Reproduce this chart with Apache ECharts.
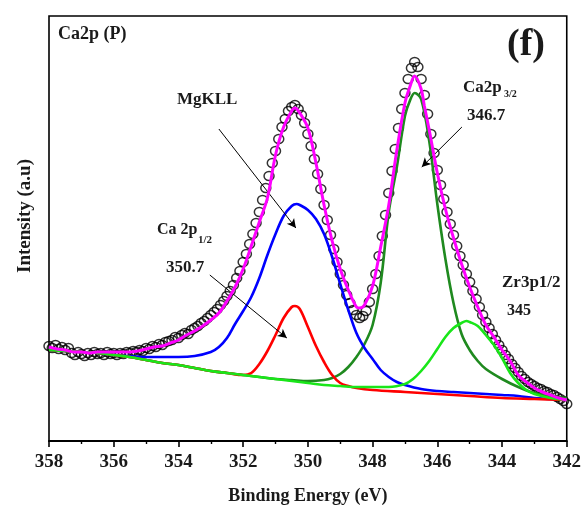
<!DOCTYPE html>
<html><head><meta charset="utf-8">
<script src="https://cdn.jsdelivr.net/npm/echarts@6/dist/echarts.min.js"></script>
<style>html,body{margin:0;padding:0;background:#fff}#c{width:584px;height:511px}</style>
</head><body><div id="c"></div>
<script>
// Binding energy axis (eV), reversed
const xMin = 342, xMax = 358, xStep = 2;

// Measured spectrum (circles): [BE, intensity]
const measured = [
[358.0,95],[357.9,93],[357.8,96],[357.7,92],[357.6,94],[357.5,91],[357.4,93],[357.3,88],[357.2,86],[357.1,89],
[357.0,87],[356.9,85],[356.8,88],[356.7,86],[356.6,89],[356.5,87],[356.4,88],[356.3,86],[356.2,89],[356.1,87],
[356.0,88],[355.9,86],[355.8,88],[355.7,87],[355.6,89],[355.5,88],[355.4,90],[355.3,89],[355.2,91],[355.1,90],
[355.0,93],[354.9,92],[354.8,95],[354.7,94],[354.6,97],[354.5,96],[354.4,99],[354.3,100],[354.2,101],[354.1,104],
[354.0,103],[353.9,106],[353.8,108],[353.7,107],[353.6,111],[353.5,113],[353.4,115],[353.3,118],[353.2,120],[353.1,123],
[353.0,126],[352.9,129],[352.8,132],[352.7,136],[352.6,140],[352.5,145],[352.4,150],[352.3,156],[352.2,163],[352.1,170],
[352.0,179],[351.9,187],[351.8,197],[351.7,207],[351.6,218],[351.5,229],[351.4,241],[351.3,253],[351.2,265],[351.1,278],
[351.0,290],[350.9,302],[350.8,314],[350.7,322],[350.6,330],[350.5,334],[350.4,336],[350.3,332],[350.2,326],[350.1,318],
[350.0,307],[349.9,295],[349.8,282],[349.7,267],[349.6,252],[349.5,236],[349.4,221],[349.3,206],[349.2,192],[349.1,179],
[349.0,167],[348.9,156],[348.8,146],[348.7,138],[348.6,131],[348.5,126],[348.4,123],[348.3,125],[348.2,130],[348.1,139],
[348.0,152],[347.9,167],[347.8,185],[347.7,205],[347.6,226],[347.5,248],[347.4,270],[347.3,292],[347.2,313],[347.1,332],
[347.0,348],[346.9,362],[346.8,373],[346.7,379],[346.6,374],[346.5,362],[346.4,346],[346.3,327],[346.2,307],[346.1,288],
[346.0,271],[345.9,256],[345.8,242],[345.7,229],[345.6,217],[345.5,206],[345.4,195],[345.3,185],[345.2,176],[345.1,167],
[345.0,159],[344.9,150],[344.8,142],[344.7,134],[344.6,126],[344.5,119],[344.4,113],[344.3,107],[344.2,101],[344.1,96],
[344.0,91],[343.9,86],[343.8,82],[343.7,77],[343.6,73],[343.5,69],[343.4,65],[343.3,62],[343.2,59],[343.1,57],
[343.0,55],[342.9,53],[342.8,52],[342.7,50],[342.6,49],[342.5,47],[342.4,46],[342.3,44],[342.2,42],[342.1,40],[342.0,37]
];

// Fitted envelope (magenta)
const envelope = [
[358.0,94],[357.75,92],[357.5,91],[357.25,89],[357.0,89],[356.75,88],[356.5,89],[356.25,89],[356.0,89],[355.75,89],
[355.5,89],[355.25,90],[355.0,92],[354.75,94],[354.5,95],[354.25,98],[354.0,101],[353.75,106],[353.5,110],[353.25,115],
[353.0,121],[352.75,128],[352.5,140],[352.25,154],[352.0,172],[351.75,195],[351.5,219],[351.25,243],[351.0,286],[350.75,314],
[350.5,330],[350.4,333],[350.25,328],[350.0,313],[349.75,278],[349.5,236],[349.25,200],[349.0,172],[348.75,151],[348.5,134],
[348.4,133],[348.25,136],[348.0,155],[347.75,194],[347.5,236],[347.25,291],[347.0,338],[346.85,354],[346.7,365],[346.5,352],
[346.4,335],[346.25,311],[346.0,268],[345.75,232],[345.5,203],[345.25,177],[345.0,154],[344.75,134],[344.5,116],[344.25,104],
[344.0,91],[343.75,80],[343.5,66],[343.25,59],[343.0,53],[342.75,49],[342.5,46],[342.25,43],[342.0,41]
];

// MgKLL component (blue)
const mgKLL = [
[358,91],[357.5,90],[357,89],[356.5,88],[356,86],[355.5,85],[355,84],[354.5,84],[354,84],[353.5,85],
[353,89],[352.75,94],[352.5,103],[352.25,117],[352,130],[351.75,144],[351.5,163],[351.25,186],[351,207],[350.75,225],
[350.5,235],[350.35,237],[350.25,236],[350,231],[349.75,222],[349.5,207],[349.25,184],[349,157],[348.75,131],[348.5,108],
[348.25,93],[348,82],[347.75,71],[347.5,64],[347.25,59],[347,56],[346.5,52],[346,50],[345.5,49],[345,48],
[344.5,47],[344,46],[343.5,45],[343,43],[342.5,42],[342,41]
];

// Ca2p1/2 component (red)
const ca2p12 = [
[358,91],[357.5,90],[357,89],[356.5,88],[356,86],[355.5,84],[355,81],[354.5,78],[354,76],[353.5,73],
[353,70],[352.5,68],[352,66],[351.75,68],[351.5,77],[351.25,90],[351,106],[350.75,123],[350.5,134],[350.4,135],
[350.25,132],[350,114],[349.75,95],[349.5,79],[349.25,66],[349,58],[348.75,55],[348.5,53],[348,51],[347,49],
[346,47],[345,45],[344,43],[343,42],[342,41]
];

// Ca2p3/2 component (dark green)
const ca2p32 = [
[358,91],[357.5,90],[357,89],[356.5,88],[356,86],[355.5,84],[355,81],[354.5,78],[354,76],[353.5,73],
[353,70],[352.5,68],[352,66],[351.5,64],[351,62],[350.5,61],[350,60],[349.5,61],[349.25,63],[349,67],
[348.75,74],[348.5,84],[348.25,97],[348,116],[347.75,158],[347.5,229],[347.25,274],[347,325],[346.85,340],[346.7,348],
[346.5,342],[346.25,300],[346,237],[345.75,182],[345.5,138],[345.25,107],[345,91],[344.75,80],[344.5,72],[344,62],
[343.5,54],[343,48],[342.5,45],[342,43]
];

// Zr3p1/2 component (light green)
const zr3p12 = [
[358,91],[357.5,90],[357,89],[356.5,88],[356,86],[355.5,84],[355,81],[354.5,78],[354,76],[353.5,73],
[353,70],[352.5,68],[352,66],[351.5,64],[351,62],[350.5,60],[350,58],[349.5,56],[349,55],[348.5,54],
[348,54],[347.5,54],[347,57],[346.75,62],[346.5,70],[346.25,80],[346,92],[345.75,104],[345.5,113],[345.25,118],
[345.1,120],[345,119],[344.75,115],[344.5,106],[344.25,96],[344,83],[343.75,68],[343.5,58],[343.25,51],[343,47],
[342.5,43],[342,41]
];

// Annotation arrows: [from, to] in [BE, intensity]
const arrowMg = [[352.75,312],[350.37,213]];
const arrowCa12 = [[353.03,166],[350.65,103]];
const arrowCa32 = [[345.24,314],[346.48,274]];

const FONT = "'Liberation Serif','Times New Roman',serif";
const chart = echarts.init(document.getElementById('c'), null, {renderer:'canvas'});

function comp(name, data, color, z){
  return {name, type:'line', data, smooth:0.35, showSymbol:false, z,
    lineStyle:{color, width:2.6}, itemStyle:{color}, animation:false};
}
function arrowData(a){ return [{coord:a[0]},{coord:a[1]}]; }

const txt = (t, x, y, size, extra) => Object.assign({type:'text', left:x, top:y,
  style:{text:t, font:'bold '+size+'px '+FONT, fill:'#1a1a1a'}}, extra||{});

chart.setOption({
  animation:false,
  backgroundColor:'#fff',
  grid:{left:49, right:17, top:16, bottom:70, show:true, borderColor:'#000', borderWidth:1.6},
  xAxis:{type:'value', min:xMin, max:xMax, interval:xStep, inverse:true,
    name:'Binding Energy (eV)', nameLocation:'middle', nameGap:46,
    nameTextStyle:{fontFamily:FONT, fontWeight:'bold', fontSize:18, color:'#1a1a1a'},
    axisLine:{show:true, lineStyle:{color:'#000', width:2}},
    axisTick:{show:true, inside:false, length:6, lineStyle:{color:'#000', width:1.6}},
    minorTick:{show:true, splitNumber:2, length:3, lineStyle:{color:'#000', width:1.4}},
    axisLabel:{fontFamily:FONT, fontWeight:'bold', fontSize:19, color:'#1a1a1a', margin:12},
    splitLine:{show:false}},
  yAxis:{type:'value', min:0, max:425, axisLine:{show:false}, axisTick:{show:false},
    axisLabel:{show:false}, splitLine:{show:false}},
  series:[
    {name:'measured', type:'scatter', data:measured, symbol:'circle', symbolSize:[10,9], z:1,
      itemStyle:{color:'rgba(0,0,0,0)', borderColor:'#000', borderWidth:1.4}},
    comp('Ca2p3/2', ca2p32, '#1f8a1f', 2),
    comp('MgKLL', mgKLL, '#0000ff', 3),
    comp('Ca2p1/2', ca2p12, '#ff0000', 4),
    comp('Zr3p1/2', zr3p12, '#19e619', 5),
    {name:'envelope', type:'line', data:envelope, smooth:0.35, showSymbol:false, z:6,
      lineStyle:{color:'#ff00ff', width:3}, itemStyle:{color:'#ff00ff'},
      markLine:{silent:true, symbol:['none','arrow'], symbolSize:[7,9], animation:false,
        lineStyle:{color:'#000', width:1, type:'solid'}, label:{show:false},
        emphasis:{disabled:true},
        data:[arrowData(arrowMg), arrowData(arrowCa12), arrowData(arrowCa32)]}}
  ],
  graphic:[
    txt('Ca2p (P)', 58, 25, 18),
    txt('(f)', 507, 26, 38),
    txt('MgKLL', 177, 91, 17),
    txt('Ca 2p', 157, 222, 16),
    txt('1/2', 198, 235, 11),
    txt('350.7', 166, 259, 17),
    txt('Ca2p', 463, 79, 17),
    txt('3/2', 504, 89, 10),
    txt('346.7', 467, 107, 17),
    txt('Zr3p1/2', 502, 274, 17),
    txt('345', 507, 303, 16),
    {type:'text', x:25, y:216, rotation:Math.PI/2,
      style:{text:'Intensity (a.u)', font:'bold 19px '+FONT, fill:'#1a1a1a', align:'center', verticalAlign:'middle'}}
  ]
});
</script></body></html>
